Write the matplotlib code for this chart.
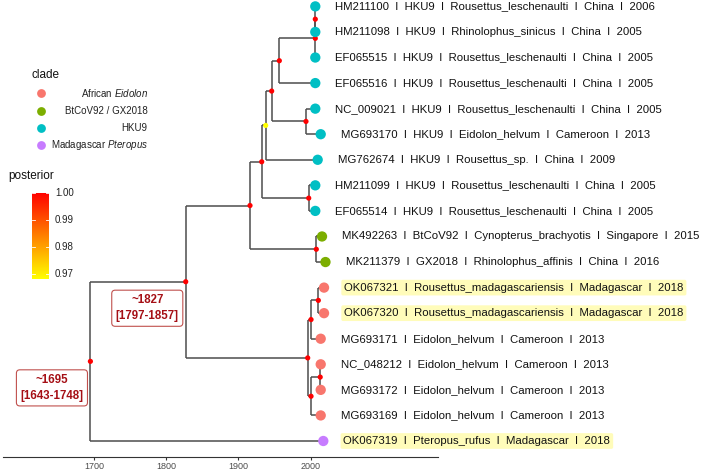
import matplotlib.pyplot as plt
import numpy as np
from matplotlib.colors import LinearSegmentedColormap

plt.rcParams['font.family'] = ['Liberation Sans', 'DejaVu Sans']
plt.rcParams['mathtext.fontset'] = 'custom'
plt.rcParams['mathtext.rm'] = 'Liberation Sans'
plt.rcParams['mathtext.it'] = 'Liberation Sans:italic'

# tips, top to bottom
tip_ids = ['HM211100', 'HM211098', 'EF065515', 'EF065516', 'NC_009021', 'MG693170',
           'MG762674', 'HM211099', 'EF065514', 'MK492263', 'MK211379', 'OK067321',
           'OK067320', 'MG693171', 'NC_048212', 'MG693172', 'MG693169', 'OK067319']
tip_labels = [
    'HM211100  I  HKU9  I  Rousettus_leschenaulti  I  China  I  2006',
    'HM211098  I  HKU9  I  Rhinolophus_sinicus  I  China  I  2005',
    'EF065515  I  HKU9  I  Rousettus_leschenaulti  I  China  I  2005',
    'EF065516  I  HKU9  I  Rousettus_leschenaulti  I  China  I  2005',
    'NC_009021  I  HKU9  I  Rousettus_leschenaulti  I  China  I  2005',
    'MG693170  I  HKU9  I  Eidolon_helvum  I  Cameroon  I  2013',
    'MG762674  I  HKU9  I  Rousettus_sp.  I  China  I  2009',
    'HM211099  I  HKU9  I  Rousettus_leschenaulti  I  China  I  2005',
    'EF065514  I  HKU9  I  Rousettus_leschenaulti  I  China  I  2005',
    'MK492263  I  BtCoV92  I  Cynopterus_brachyotis  I  Singapore  I  2015',
    'MK211379  I  GX2018  I  Rhinolophus_affinis  I  China  I  2016',
    'OK067321  I  Rousettus_madagascariensis  I  Madagascar  I  2018',
    'OK067320  I  Rousettus_madagascariensis  I  Madagascar  I  2018',
    'MG693171  I  Eidolon_helvum  I  Cameroon  I  2013',
    'NC_048212  I  Eidolon_helvum  I  Cameroon  I  2013',
    'MG693172  I  Eidolon_helvum  I  Cameroon  I  2013',
    'MG693169  I  Eidolon_helvum  I  Cameroon  I  2013',
    'OK067319  I  Pteropus_rufus  I  Madagascar  I  2018',
]
tip_year = [2006.4, 2006.4, 2006.4, 2006.4, 2006.4, 2013.9, 2009.7, 2006.4, 2006.4,
            2015.7, 2020.5, 2018.5, 2018.5, 2013.9, 2013.9, 2013.9, 2013.9, 2017.5]
tip_clade = ['HKU9'] * 9 + ['BtCoV92 / GX2018'] * 2 + ['African Eidolon'] * 6 + ['Madagascar Pteropus']
tip_highlight = [False] * 11 + [True, True] + [False] * 4 + [True]

# internal nodes (children listed), dated in years
node_ids = ['A', 'B', 'C', 'D', 'E', 'F', 'H', 'G', 'J', 'I', 'K', 'L', 'M', 'N', 'O', 'P', 'R']
node_children = [
    ['HM211100', 'HM211098'], ['A', 'EF065515'], ['B', 'EF065516'],
    ['NC_009021', 'MG693170'], ['C', 'D'], ['E', 'MG762674'],
    ['HM211099', 'EF065514'], ['F', 'H'], ['MK492263', 'MK211379'], ['G', 'J'],
    ['OK067321', 'OK067320'], ['K', 'MG693171'], ['NC_048212', 'MG693172'],
    ['M', 'MG693169'], ['L', 'N'], ['I', 'O'], ['P', 'OK067319'],
]
node_year = [2006.4, 2006.4, 1956.6, 1993.5, 1946.0, 1937.7, 1997.3, 1932.2, 2007.8,
             1916.0, 2010.6, 2000.5, 2013.2, 2000.5, 1995.9, 1827, 1695]
node_posterior = [1, 1, 1, 1, 1, 0.968, 1, 1, 1, 1, 1, 1, 1, 1, 1, 1, 1]

clades = ['African Eidolon', 'BtCoV92 / GX2018', 'HKU9', 'Madagascar Pteropus']
clade_labels = ['African $\\it{Eidolon}$', 'BtCoV92 / GX2018', 'HKU9', 'Madagascar $\\it{Pteropus}$']
clade_colors = ['#F8766D', '#7CAE00', '#00BFC4', '#C77CFF']

dated_nodes = ['P', 'R']
dated_text = ['~1827\n[1797-1857]', '~1695\n[1643-1748]']

xticks = [1700, 1800, 1900, 2000]

# layout
pos = {}
n = len(tip_ids)
for i, t in enumerate(tip_ids):
    pos[t] = (tip_year[i], n - i)
for nid, ch, yr in zip(node_ids, node_children, node_year):
    pos[nid] = (yr, np.mean([pos[c][1] for c in ch]))

fig = plt.figure(figsize=(7.08, 4.71), dpi=100)
ax = fig.add_axes([3 / 708, 14 / 471, 435 / 708, 457 / 471])
ax.set_xlim(1574, 2176.3)
ax.set_ylim(0.374, 18.25)

lc = '#4d4d4d'
for nid, ch in zip(node_ids, node_children):
    x0, y0 = pos[nid]
    ys = [pos[c][1] for c in ch]
    ax.plot([x0, x0], [min(ys), max(ys)], color=lc, lw=1.1, solid_capstyle='butt', zorder=1)
    for c in ch:
        ax.plot([x0, pos[c][0]], [pos[c][1], pos[c][1]], color=lc, lw=1.1,
                solid_capstyle='butt', zorder=1)

cmap = LinearSegmentedColormap.from_list('post', ['#FFFF00', '#FF0000'])
vmin, vmax = 0.968, 1.0
nx = [pos[k][0] for k in node_ids]
ny = [pos[k][1] for k in node_ids]
ax.scatter(nx, ny, c=node_posterior, cmap=cmap, vmin=vmin, vmax=vmax, s=14, zorder=3, linewidths=0)

tcol = [clade_colors[clades.index(c)] for c in tip_clade]
ax.scatter([pos[t][0] for t in tip_ids], [pos[t][1] for t in tip_ids], c=tcol, s=55,
           zorder=3, linewidths=0)

for i, t in enumerate(tip_ids):
    kw = {}
    if tip_highlight[i]:
        kw['bbox'] = dict(boxstyle='round,pad=0.25,rounding_size=0.15', fc='#FFFCBA', ec='none')
    ax.annotate(tip_labels[i], pos[t], xytext=(14.5, 0), textcoords='offset points',
                ha='left', va='center', fontsize=8.2, color='#111111',
                annotation_clip=False, **kw)

for nid, txt in zip(dated_nodes, dated_text):
    ax.annotate(txt, pos[nid], xytext=(-5, -9), textcoords='offset points',
                ha='right', va='top', multialignment='center', fontsize=8.3,
                fontweight='bold', color='#A50F15', linespacing=1.45,
                bbox=dict(boxstyle='round,pad=0.35,rounding_size=0.3', fc='white',
                          ec='#C0504D', lw=0.8))

for s in ['top', 'left', 'right']:
    ax.spines[s].set_visible(False)
ax.spines['bottom'].set_color('#333333')
ax.spines['bottom'].set_linewidth(0.8)
ax.set_yticks([])
ax.set_xticks(xticks)
ax.tick_params(axis='x', length=2.5, width=0.8, color='#333333', labelsize=6.5,
               labelcolor='#4D4D4D', pad=1)

# legend (clade), drawn in pixel space
ov = fig.add_axes([0, 0, 1, 1])
ov.set_xlim(0, 708)
ov.set_ylim(471, 0)
ov.axis('off')
ov.text(32, 75, 'clade', fontsize=8.5, va='center', ha='left', color='#111111')
for k, (lab, col) in enumerate(zip(clade_labels, clade_colors)):
    yy = 93.3 + k * 17.3
    ov.scatter([41], [yy], s=40, c=col, linewidths=0)
    ov.text(147.7, yy, lab, fontsize=7, ha='right', va='center', color='#222222')

# posterior colour bar
ov.text(8, 176, 'posterior', fontsize=8.5, va='center', ha='left', color='#111111')
cax = fig.add_axes([32 / 708, (471 - 279.3) / 471, 17 / 708, (279.3 - 193) / 471])
grad = np.linspace(vmin, vmax, 200).reshape(-1, 1)
cax.imshow(grad, aspect='auto', cmap=cmap, origin='lower', extent=[0, 1, vmin, vmax])
cax.set_xticks([])
cax.set_yticks([])
for s in cax.spines.values():
    s.set_visible(False)
for v in [0.97, 0.98, 0.99, 1.00]:
    cax.plot([0, 0.2], [v, v], color='white', lw=0.6)
    cax.plot([0.8, 1], [v, v], color='white', lw=0.6)
    cax.text(1.35, v, f'{v:.2f}', transform=cax.get_yaxis_transform(), fontsize=7,
             va='center', ha='left', color='#222222')
cax.set_ylim(vmin, vmax)
cax.set_xlim(0, 1)

fig.savefig('out.png', dpi=100)
